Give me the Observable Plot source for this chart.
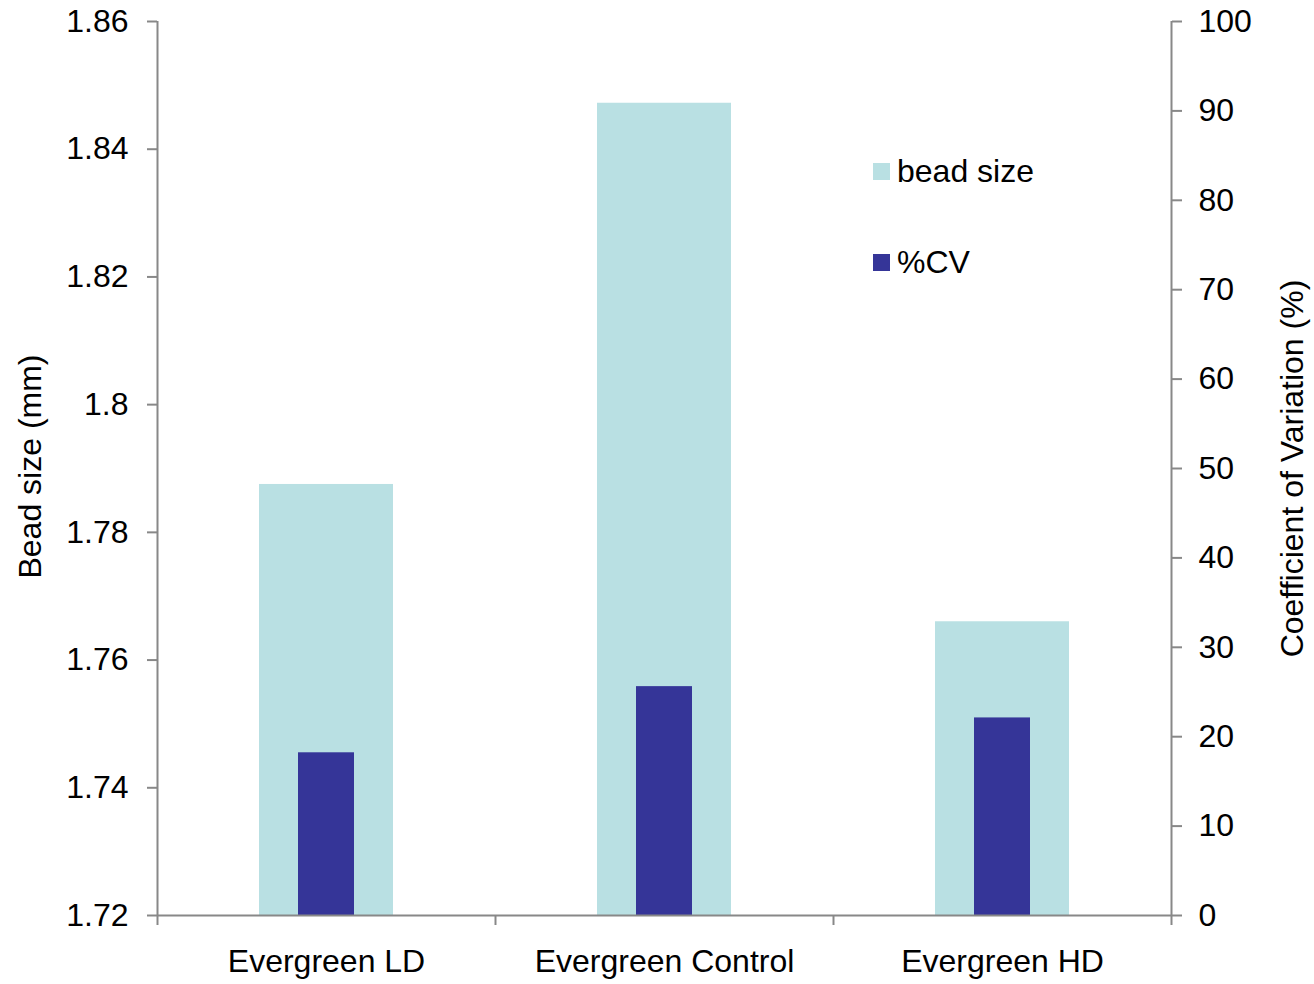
<!DOCTYPE html>
<html>
<head>
<meta charset="utf-8">
<script src="https://cdn.jsdelivr.net/npm/d3@7"></script>
<script src="https://cdn.jsdelivr.net/npm/@observablehq/plot@0.6"></script>
<style>
  html, body { margin: 0; padding: 0; background: #fff; }
  #wrap { position: relative; width: 1314px; height: 984px; font-family: "Liberation Sans", Arial, sans-serif; }
  .leg { position: absolute; left: 873px; display: flex; align-items: center; font-size: 32px; color: #000; }
  .sw { width: 17px; height: 17px; margin-right: 7px; }
</style>
</head>
<body>
<div id="wrap"></div>
<script>
const categories = ["Evergreen LD", "Evergreen Control", "Evergreen HD"];
const beadSize = [1.7875, 1.8472, 1.7660];
const cvPercent = [18.2, 25.6, 22.1];
const beadTicks = [1.72, 1.74, 1.76, 1.78, 1.80, 1.82, 1.84, 1.86];
const beadTickLabels = ["1.72", "1.74", "1.76", "1.78", "1.8", "1.82", "1.84", "1.86"];
const cvTicks = [0, 10, 20, 30, 40, 50, 60, 70, 80, 90, 100];
const cvTickLabels = ["0", "10", "20", "30", "40", "50", "60", "70", "80", "90", "100"];

const beadColor = "#b9e0e3";
const cvColor = "#353598";
const axisColor = "#888888";
const FS = 32;

const yMin = 1.72, yMax = 1.86, cvMax = 100;
const cvToY = v => yMin + (v / cvMax) * (yMax - yMin);

const data = categories.map((c, i) => ({cat: c, i, bead: beadSize[i], cv: cvPercent[i]}));

const beadLabelMap = new Map(beadTicks.map((t, i) => [t, beadTickLabels[i]]));
const cvPos = cvTicks.map(cvToY);
const cvLabelMap = new Map(cvPos.map((p, i) => [p, cvTickLabels[i]]));

const bandEdges = d3.range(categories.length + 1);
const centers = categories.map((c, i) => i + 0.5);

const chart = Plot.plot({
  width: 1314,
  height: 984,
  marginLeft: 157,
  marginRight: 143,
  marginTop: 21,
  marginBottom: 69,
  style: {fontFamily: "Liberation Sans, Arial, sans-serif", fontSize: FS + "px", background: "#fff", color: "#000"},
  x: {domain: [0, categories.length], axis: null},
  y: {domain: [yMin, yMax], axis: null},
  marks: [
    Plot.rectY(data, {x1: d => d.i, x2: d => d.i + 1, y1: yMin, y2: "bead", fill: beadColor, insetLeft: 102, insetRight: 102}),
    Plot.rectY(data, {x1: d => d.i, x2: d => d.i + 1, y1: yMin, y2: d => cvToY(d.cv), fill: cvColor, insetLeft: 141, insetRight: 141}),
    Plot.ruleX([0, categories.length], {stroke: axisColor, strokeWidth: 2}),
    Plot.ruleY([yMin], {stroke: axisColor, strokeWidth: 2}),
    Plot.axisY({anchor: "left", ticks: beadTicks, tickSize: 10, tickPadding: 19, tickFormat: d => beadLabelMap.get(d), stroke: axisColor, fill: "#000", strokeWidth: 2, fontSize: FS, label: null}),
    Plot.axisY({anchor: "right", ticks: cvPos, tickSize: 10, tickPadding: 17, tickFormat: d => cvLabelMap.get(d), stroke: axisColor, fill: "#000", strokeWidth: 2, fontSize: FS, label: null}),
    Plot.axisX({anchor: "bottom", ticks: bandEdges, tickSize: 10, tickFormat: () => "", stroke: axisColor, strokeWidth: 2, label: null}),
    Plot.axisX({anchor: "bottom", ticks: centers, tickSize: 0, tickPadding: 34, tickFormat: d => categories[Math.floor(d)], fill: "#000", fontSize: FS, label: null}),
    Plot.text(["Bead size (mm)"], {frameAnchor: "left", textAnchor: "middle", rotate: -90, dx: -127, dy: -2, fontSize: FS, fill: "#000"}),
    Plot.text(["Coefficient of Variation (%)"], {frameAnchor: "right", textAnchor: "middle", rotate: -90, dx: 121, dy: 0, fontSize: FS, fill: "#000"})
  ]
});

const wrap = document.getElementById("wrap");
wrap.appendChild(chart);

const legendItems = [["bead size", beadColor, 171], ["%CV", cvColor, 262]];
for (const [label, color, cy] of legendItems) {
  const el = document.createElement("div");
  el.className = "leg";
  el.style.top = (cy - 20) + "px";
  el.style.height = "40px";
  el.innerHTML = `<div class="sw" style="background:${color}"></div><span>${label}</span>`;
  wrap.appendChild(el);
}
</script>
</body>
</html>
